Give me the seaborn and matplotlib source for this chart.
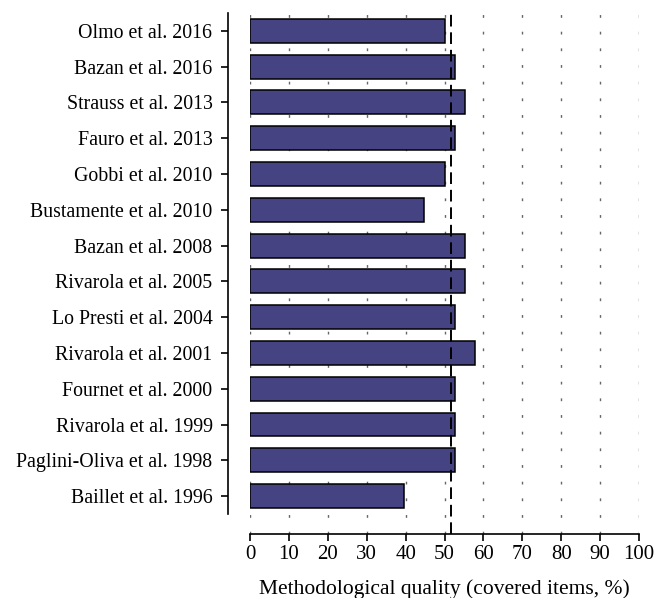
import numpy as np
import pandas as pd
import matplotlib
matplotlib.use("Agg")
import matplotlib.pyplot as plt
import seaborn as sns

studies = [
    "Olmo et al. 2016",
    "Bazan et al. 2016",
    "Strauss et al. 2013",
    "Fauro et al. 2013",
    "Gobbi et al. 2010",
    "Bustamente et al. 2010",
    "Bazan et al. 2008",
    "Rivarola et al. 2005",
    "Lo Presti et al. 2004",
    "Rivarola et al. 2001",
    "Fournet et al. 2000",
    "Rivarola et al. 1999",
    "Paglini-Oliva et al. 1998",
    "Baillet et al. 1996",
]
quality = [50.0, 52.6, 55.3, 52.6, 50.0, 44.7, 55.3, 55.3, 52.6, 57.9, 52.6, 52.6, 52.6, 39.5]
x_ticks = [0, 10, 20, 30, 40, 50, 60, 70, 80, 90, 100]

df = pd.DataFrame({"study": studies, "quality": quality})
mean_quality = float(np.mean(quality))

sns.set_style("ticks")
plt.rcParams["font.family"] = ["Liberation Serif", "DejaVu Serif"]
plt.rcParams["text.color"] = "black"
plt.rcParams["axes.labelcolor"] = "black"
plt.rcParams["xtick.color"] = "black"
plt.rcParams["ytick.color"] = "black"
plt.rcParams["axes.edgecolor"] = "black"

fig = plt.figure(figsize=(6.54, 5.98), dpi=100)
ax = fig.add_axes([250 / 654, 1 - 534 / 598, 389 / 654, 521 / 598])

# dotted vertical guides at every tick
for t in x_ticks:
    ax.axvline(t, color="#666666", linestyle=(0, (2, 10)), linewidth=1.0, zorder=0)

sns.barplot(data=df, x="quality", y="study", orient="h", color="#464382",
            saturation=1, width=0.67, edgecolor="black", linewidth=1.1,
            ax=ax, zorder=2)

ax.axvline(mean_quality, color="black", linestyle=(0, (6, 3)), linewidth=1.4, zorder=3)

ax.set_xlim(0, 100)
ax.set_ylim(14.06, -0.5)
ax.set_xticks(x_ticks)
ax.set_xlabel("Methodological quality (covered items, %)", fontsize=15.5, labelpad=11)
ax.set_ylabel("")

ax.spines["top"].set_visible(False)
ax.spines["right"].set_visible(False)
ax.spines["left"].set_position(("outward", 15.5))
ax.spines["left"].set_bounds(-0.5, 13.5)
ax.spines["left"].set_linewidth(1.2)
ax.spines["bottom"].set_linewidth(1.2)

ax.tick_params(axis="y", length=5, width=1.2, labelsize=14.3, pad=6.5)
ax.tick_params(axis="x", length=5, width=1.2, labelsize=15, pad=3)

fig.savefig("out.png", dpi=100)
